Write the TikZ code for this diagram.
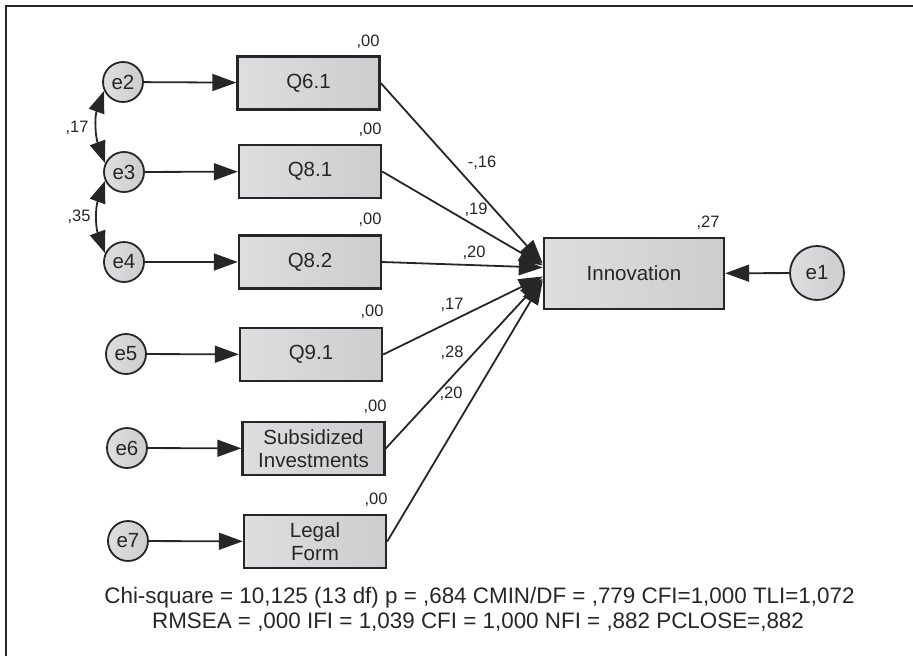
\documentclass[tikz,border=0pt]{standalone}
\usepackage{fontspec}
\setmainfont{Liberation Sans}
\usetikzlibrary{arrows.meta}
\definecolor{ink}{RGB}{38,38,38}
\definecolor{boxlight}{RGB}{222,222,224}
\definecolor{boxdark}{RGB}{205,205,208}

\begin{document}
\begin{tikzpicture}[x=1pt,y=-1pt,
        var/.style={draw=ink,line width=2.4pt,left color=boxlight,right color=boxdark,
            minimum width=142pt,minimum height=53pt,inner sep=0pt,text=ink,align=center,
            font=\fontsize{20.5}{23}\selectfont},
        err/.style={circle,draw=ink,line width=1.8pt,left color=boxlight,right color=boxdark,
            minimum size=40pt,inner sep=0pt,text=ink,font=\fontsize{20.5}{22}\selectfont},
        reg/.style={draw=ink,line width=1.8pt,-{Triangle[length=24pt,width=17pt]}},
        cov/.style={draw=ink,line width=1.8pt,{Triangle[length=22pt,width=16pt]}-{Triangle[length=22pt,width=16pt]}},
        coef/.style={text=ink,inner sep=0pt,font=\fontsize{16.5}{18}\selectfont},
        fit/.style={text=ink,inner sep=0pt,anchor=base,font=\fontsize{22.4}{26}\selectfont}]
        \useasboundingbox (0,0) rectangle (913,656);
        \draw[ink,line width=2pt] (5.5,656) -- (5.5,6) -- (913,6);
        % observed variables
        \node[var] (q61) at (308.5,83) {Q6.1};
        \node[var] (q81) at (310,171.5) {Q8.1};
        \node[var] (q82) at (310,262) {Q8.2};
        \node[var] (q91) at (311,354.5) {Q9.1};
        \node[var] (subs) at (313.5,448.5) {Subsidized\\Investments};
        \node[var] (legal) at (315,541.5) {Legal\\Form};
        \node[var,minimum width=180pt,minimum height=71pt] (inno) at (634,273.5) {Innovation};
        % error terms
        \node[err] (e2) at (123,82) {e2};
        \node[err] (e3) at (124,172) {e3};
        \node[err] (e4) at (124,262) {e4};
        \node[err] (e5) at (126,354) {e5};
        \node[err] (e6) at (127,448) {e6};
        \node[err] (e7) at (128,541) {e7};
        \node[err,minimum size=54pt] (e1) at (817,273) {e1};
        \draw[reg] (e2) -- (q61);
        \draw[reg] (e3) -- (q81);
        \draw[reg] (e4) -- (q82);
        \draw[reg] (e5) -- (q91);
        \draw[reg] (e6) -- (subs);
        \draw[reg] (e7) -- (legal);
        \draw[reg] (e1) -- (inno);
        \draw[cov] (e2.205) to[out=250,in=110] (e3.155);
        \draw[cov] (e3.205) to[out=250,in=110] (e4.155);
        % paths to innovation
        \draw[reg] (q61.east) -- ([yshift=10pt]inno.west);
        \draw[reg] (q81.east) -- ([yshift=8pt]inno.west);
        \draw[reg] (q82.east) -- ([yshift=6pt]inno.west);
        \draw[reg] (q91.east) -- ([yshift=-3pt]inno.west);
        \draw[reg] (subs.east) -- ([yshift=-5pt]inno.west);
        \draw[reg] (legal.east) -- ([yshift=-7pt]inno.west);
        % estimates
        \node[coef] (r61) at (368,42) {,00};
        \node[coef] (r81) at (370,130) {,00};
        \node[coef] (r82) at (370,220) {,00};
        \node[coef] (r91) at (372,312) {,00};
        \node[coef] (rsub) at (375,407) {,00};
        \node[coef] (rleg) at (376,500) {,00};
        \node[coef] (rinn) at (708,223) {,27};
        \node[coef] (b61) at (482,163) {-,16};
        \node[coef] (b81) at (476,210) {,19};
        \node[coef] (b82) at (474,253) {,20};
        \node[coef] (b91) at (452,305) {,17};
        \node[coef] (bsub) at (452,353) {,28};
        \node[coef] (bleg) at (451,394) {,20};
        \node[coef] (c23) at (77,128) {,17};
        \node[coef] (c34) at (79,217) {,35};
        % fit indices
        \node[fit] (fit1) at (479.5,603) {Chi-square = 10,125 (13 df) p = ,684 CMIN/DF = ,779 CFI=1,000 TLI=1,072};
        \node[fit] (fit2) at (478,628) {RMSEA = ,000 IFI = 1,039 CFI = 1,000 NFI = ,882 PCLOSE=,882};
\end{tikzpicture}
\end{document}
